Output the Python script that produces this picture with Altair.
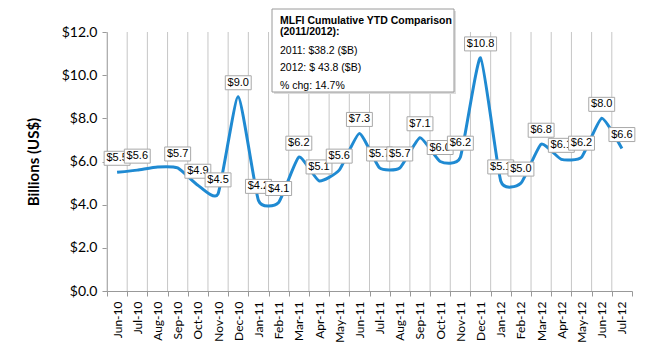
import altair as alt
import pandas as pd

months = ["Jun-10", "Jul-10", "Aug-10", "Sep-10", "Oct-10", "Nov-10", "Dec-10",
          "Jan-11", "Feb-11", "Mar-11", "Apr-11", "May-11", "Jun-11", "Jul-11",
          "Aug-11", "Sep-11", "Oct-11", "Nov-11", "Dec-11", "Jan-12", "Feb-12",
          "Mar-12", "Apr-12", "May-12", "Jun-12", "Jul-12"]
values = [5.5, 5.6, 5.75, 5.7, 4.9, 4.5, 9.0,
          4.2, 4.1, 6.2, 5.1, 5.6, 7.3, 5.7,
          5.7, 7.1, 6.0, 6.2, 10.8, 5.1, 5.0,
          6.8, 6.1, 6.2, 8.0, 6.6]
labels = ["$5.5", "$5.6", "", "$5.7", "$4.9", "$4.5", "$9.0",
          "$4.2", "$4.1", "$6.2", "$5.1", "$5.6", "$7.3", "$5.7",
          "$5.7", "$7.1", "$6.0", "$6.2", "$10.8", "$5.1", "$5.0",
          "$6.8", "$6.1", "$6.2", "$8.0", "$6.6"]
note_lines = ["MLFI Cumulative YTD Comparison", "(2011/2012):",
              "2011: $38.2 ($B)", "2012: $ 43.8  ($B)", "% chg: 14.7%"]

df = pd.DataFrame({"month": months, "value": values, "label": labels,
                   "idx": list(range(len(months)))})

W, H = 525, 259

x_enc = alt.X("month:N", sort=months,
              scale=alt.Scale(type="band", paddingInner=0, paddingOuter=0),
              axis=alt.Axis(title=None, labelAngle=-90, labelAlign="right",
                            labelBaseline="middle", labelFont="Lato",
                            labelFontSize=12, labelColor="#000000",
                            labelPadding=5, tickBand="extent", grid=False,
                            domainColor="#999999", tickColor="#999999",
                            tickSize=5))
y_scale = alt.Scale(domain=[0, 12], nice=False, zero=True)
y_enc = alt.Y("value:Q", scale=y_scale,
              axis=alt.Axis(title="Billions (US$)", values=[0, 2, 4, 6, 8, 10, 12],
                            labelExpr="'$' + format(datum.value, '.1f')",
                            labelFont="Lato", labelFontSize=14, labelColor="#000000",
                            labelPadding=5, grid=False, tickSize=5,
                            domainColor="#999999", tickColor="#999999",
                            titleFont="Lato", titleFontSize=15, titleFontWeight="bold",
                            titleColor="#000000", titlePadding=20))

grid = alt.Chart(df).mark_rule(color="#c6c6c6", strokeWidth=1).encode(
    x=alt.X("month:N", sort=months, bandPosition=0),
    y=alt.datum(0, scale=y_scale), y2=alt.datum(12))

line = alt.Chart(df).mark_line(interpolate="cardinal", tension=0.5,
                               color="#1f8ad2", strokeWidth=3).encode(x=x_enc, y=y_enc)

layers = [grid, line]
for i, lab in enumerate(labels):
    if not lab:
        continue
    bw = 6.12 * (len(lab) - 1) + 3.06 + 4.5
    bh = 14
    h = bh / bw
    shape = f"M-1,{-h:.4f}H1V{h:.4f}H-1Z"
    sub = alt.Chart(df).transform_filter(alt.datum.idx == i)
    box = sub.mark_point(shape=shape, size=bw * bw, filled=True, fill="white",
                         stroke="#a8a8a8", strokeWidth=1, opacity=1,
                         yOffset=-14).encode(
        x=alt.X("month:N", sort=months), y=alt.Y("value:Q"))
    txt = sub.mark_text(font="Liberation Sans", fontSize=11, color="#000000",
                        yOffset=-14, baseline="middle").encode(
        x=alt.X("month:N", sort=months), y=alt.Y("value:Q"), text="label:N")
    layers += [box, txt]

# annotation box
note_df = pd.DataFrame({"t": note_lines, "k": list(range(len(note_lines)))})
shadow = alt.Chart(note_df).transform_filter(alt.datum.k == 0).mark_rect(
    fill="#dddddd").encode(x=alt.value(167), x2=alt.value(349),
                           y=alt.value(-21), y2=alt.value(62))
nbox = alt.Chart(note_df).transform_filter(alt.datum.k == 0).mark_rect(
    fill="white", stroke="#9a9a9a", strokeWidth=1).encode(
    x=alt.value(165), x2=alt.value(347), y=alt.value(-23), y2=alt.value(60))
layers += [shadow, nbox]
ypos = [-11, 0, 19, 36, 54]
for k, t in enumerate(note_lines):
    layers.append(alt.Chart(note_df).transform_filter(alt.datum.k == k).mark_text(
        font="Liberation Sans", fontSize=10.5,
        fontWeight="bold" if k < 2 else "normal",
        align="left", baseline="middle", color="#000000").encode(
        x=alt.value(173), y=alt.value(ypos[k]), text="t:N"))

chart = alt.layer(*layers).properties(
    width=W, height=H,
    autosize=alt.AutoSizeParams(type="none"),
    padding={"left": 107, "top": 32, "right": 18, "bottom": 59},
    background="white",
).configure_view(stroke=None)

chart.save("out.html", embed_options={"renderer": "svg", "actions": False})
